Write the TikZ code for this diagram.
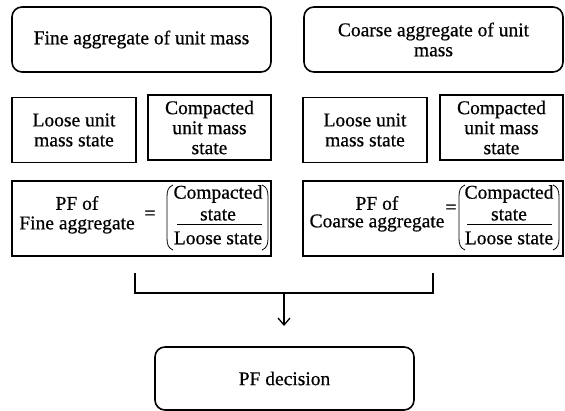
\documentclass[tikz,border=0pt]{standalone}
\usepackage{fontspec}
\setmainfont{Liberation Serif}[FakeBold=0.6]
\usetikzlibrary{arrows.meta}
\begin{document}
\begin{tikzpicture}[x=1pt,y=-1pt,
  txt/.style={font=\fontsize{19.5}{20}\selectfont, align=center, inner sep=0pt},
  rbox/.style={draw, line width=1.6pt, rounded corners=10pt, minimum height=65pt, minimum width=259pt, txt},
  sbox/.style={draw, line width=1.6pt, minimum height=65pt, minimum width=123pt, txt},
  pfbox/.style={draw, line width=1.6pt, minimum height=75pt, minimum width=259pt},
  conn/.style={line width=1.3pt},
  paren/.style={line width=0.8pt}
]
\useasboundingbox (0,0) rectangle (565,411);
% top row
\node[rbox] (fine) at (141.5,39.5) {Fine aggregate of unit mass};
\node[rbox] (coarse) at (433.5,39.5) {Coarse aggregate of unit\\mass};
% second row
\node[sbox, minimum width=124pt] (floose) at (74,130) {Loose unit\\mass state};
\node[sbox] (fcomp) at (209.5,127.5) {Compacted\\unit mass\\state};
\node[sbox, minimum width=124pt] (cloose) at (365,130) {Loose unit\\mass state};
\node[sbox] (ccomp) at (501.5,127.5) {Compacted\\unit mass\\state};
% third row
\node[pfbox] (fpf) at (141.5,218.5) {};
\node[pfbox, minimum width=260pt] (cpf) at (433,218.5) {};
% fine PF content
\node[txt] (fpfa) at (77,203) {PF of};
\node[txt] (fpfb) at (77,225) {Fine aggregate};
\node[txt] (feq) at (150,215) {=};
\node[txt] (fnum1) at (218,194) {Compacted};
\node[txt] (fnum2) at (218,215) {state};
\node[txt] (fden) at (218,238) {Loose state};
\draw[line width=0.9pt] (177,224) -- (262,224);
\draw[paren] (173,185) .. controls (168,187) and (167,191) .. (167,197) -- (167,238) .. controls (167,244) and (168,248) .. (173,250);
\draw[paren] (262,185) .. controls (267,187) and (268,191) .. (268,197) -- (268,238) .. controls (268,244) and (267,248) .. (262,250);
% coarse PF content
\node[txt] (cpfa) at (377,203) {PF of};
\node[txt] (cpfb) at (377,223) {Coarse aggregate};
\node[txt] (ceq) at (451,209) {=};
\node[txt] (cnum1) at (509,194) {Compacted};
\node[txt] (cnum2) at (509,215) {state};
\node[txt] (cden) at (509,238) {Loose state};
\draw[line width=0.9pt] (467,224) -- (552,224);
\draw[paren] (465,185) .. controls (460,187) and (459,191) .. (459,197) -- (459,238) .. controls (459,244) and (460,248) .. (465,250);
\draw[paren] (553,185) .. controls (558,187) and (559,191) .. (559,197) -- (559,238) .. controls (559,244) and (558,248) .. (553,250);
% connector
\coordinate (lt) at (135,273);
\coordinate (rt) at (433,273);
\coordinate (lb) at (135,293);
\coordinate (rb) at (433,293);
\coordinate (mid) at (284,293);
\coordinate (aend) at (284,326);
\draw[conn] (lt) -- (lb) -- (rb) -- (rt);
\draw[conn, -{Straight Barb[length=7pt,width=12pt]}] (mid) -- (aend);
% bottom
\node[rbox, minimum height=63pt] (dec) at (284.5,378.5) {PF decision};
\end{tikzpicture}
\end{document}
